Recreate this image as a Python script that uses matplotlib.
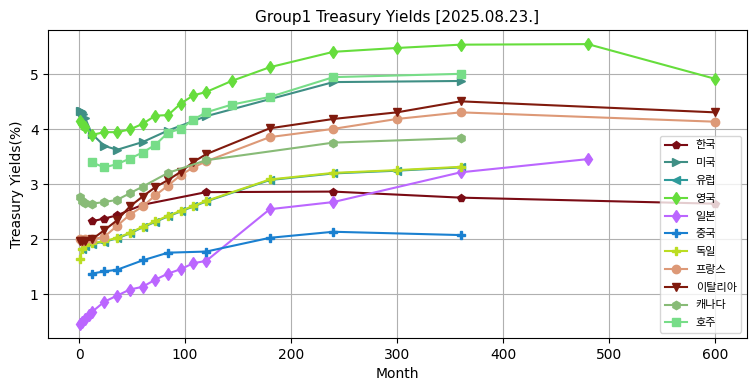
import matplotlib.pyplot as plt

plt.rcParams['font.family'] = ['DejaVu Sans', 'Noto Sans CJK KR']

# maturities in months / yields in %
kr_x = [12, 24, 36, 60, 120, 240, 360, 600]
kr_y = [2.33, 2.38, 2.44, 2.63, 2.86, 2.87, 2.76, 2.65]

us_x = [1, 2, 3, 4, 6, 12, 24, 36, 60, 84, 120, 240, 360]
us_y = [4.34, 4.33, 4.31, 4.28, 4.2, 3.92, 3.7, 3.63, 3.77, 3.98, 4.24, 4.86, 4.88]

de_x = [1, 3, 6, 12, 24, 36, 48, 60, 72, 84, 96, 108, 120, 180, 240, 300, 360]
de_y = [1.65, 1.83, 1.9, 1.93, 1.97, 2.03, 2.12, 2.23, 2.33, 2.43, 2.52, 2.61, 2.7, 3.09, 3.21, 3.26, 3.32]

eu_x = [3, 6, 12, 24, 36, 48, 60, 72, 84, 96, 108, 120, 180, 240, 300, 360]
eu_y = [1.82, 1.89, 1.92, 1.96, 2.02, 2.11, 2.22, 2.32, 2.42, 2.51, 2.6, 2.69, 3.08, 3.2, 3.25, 3.31]

uk_x = [1, 3, 6, 12, 24, 36, 48, 60, 72, 84, 96, 108, 120, 144, 180, 240, 300, 360, 480, 600]
uk_y = [4.15, 4.1, 4.05, 3.9, 3.95, 3.95, 4.0, 4.1, 4.25, 4.26, 4.47, 4.62, 4.68, 4.88, 5.13, 5.41, 5.48, 5.54, 5.55, 4.92]

jp_x = [1, 3, 6, 9, 12, 24, 36, 48, 60, 72, 84, 96, 108, 120, 180, 240, 360, 480]
jp_y = [0.46, 0.5, 0.55, 0.62, 0.68, 0.87, 0.98, 1.09, 1.14, 1.27, 1.38, 1.46, 1.57, 1.61, 2.55, 2.68, 3.22, 3.46]

cn_x = [12, 24, 36, 60, 84, 120, 180, 240, 360]
cn_y = [1.38, 1.42, 1.45, 1.62, 1.76, 1.78, 2.03, 2.14, 2.08]

fr_x = [1, 3, 6, 12, 24, 36, 48, 60, 72, 84, 96, 108, 120, 180, 240, 300, 360, 600]
fr_y = [2.0, 1.98, 2.0, 2.0, 2.05, 2.25, 2.45, 2.6, 2.8, 2.98, 3.17, 3.31, 3.42, 3.86, 4.01, 4.19, 4.31, 4.14]

it_x = [1, 3, 6, 12, 24, 36, 48, 60, 72, 84, 96, 108, 120, 180, 240, 300, 360, 600]
it_y = [1.97, 1.97, 1.98, 2.0, 2.17, 2.35, 2.6, 2.78, 2.95, 3.08, 3.23, 3.41, 3.55, 4.02, 4.19, 4.31, 4.51, 4.31]

ca_x = [1, 3, 6, 12, 24, 36, 48, 60, 84, 120, 240, 360]
ca_y = [2.77, 2.7, 2.66, 2.65, 2.68, 2.72, 2.84, 2.96, 3.21, 3.44, 3.76, 3.84]

au_x = [12, 24, 36, 48, 60, 72, 84, 96, 108, 120, 144, 180, 240, 360]
au_y = [3.40, 3.31, 3.37, 3.47, 3.58, 3.72, 3.94, 4.01, 4.18, 4.31, 4.45, 4.59, 4.95, 5.01]

series = [
    ("한국", kr_x, kr_y, "#7a0b14", "p"),
    ("미국", us_x, us_y, "#3f8f85", ">"),
    ("유럽", eu_x, eu_y, "#2e9a9a", "<"),
    ("영국", uk_x, uk_y, "#66dd3c", "d"),
    ("일본", jp_x, jp_y, "#bb66ff", "d"),
    ("중국", cn_x, cn_y, "#1a80d0", "P"),
    ("독일", de_x, de_y, "#bbdd22", "P"),
    ("프랑스", fr_x, fr_y, "#dd9977", "o"),
    ("이탈리아", it_x, it_y, "#801a0d", "v"),
    ("캐나다", ca_x, ca_y, "#88bb77", "h"),
    ("호주", au_x, au_y, "#77dd88", "s"),
]

fig, ax = plt.subplots(figsize=(7.55, 3.91), dpi=100)
fig.subplots_adjust(left=0.064, right=0.989, top=0.923, bottom=0.135)

for name, xs, ys, color, mk in series:
    ax.plot(xs, ys, marker=mk, color=color, label=name, linewidth=1.5, markersize=6)

ax.set_title("Group1 Treasury Yields [2025.08.23.]", fontsize=11)
ax.set_xlabel("Month")
ax.set_ylabel("Treasury Yields(%)")
ax.grid(True)
ax.legend(loc="lower right", fontsize=8, labelspacing=0.7)

fig.savefig("out.png")
